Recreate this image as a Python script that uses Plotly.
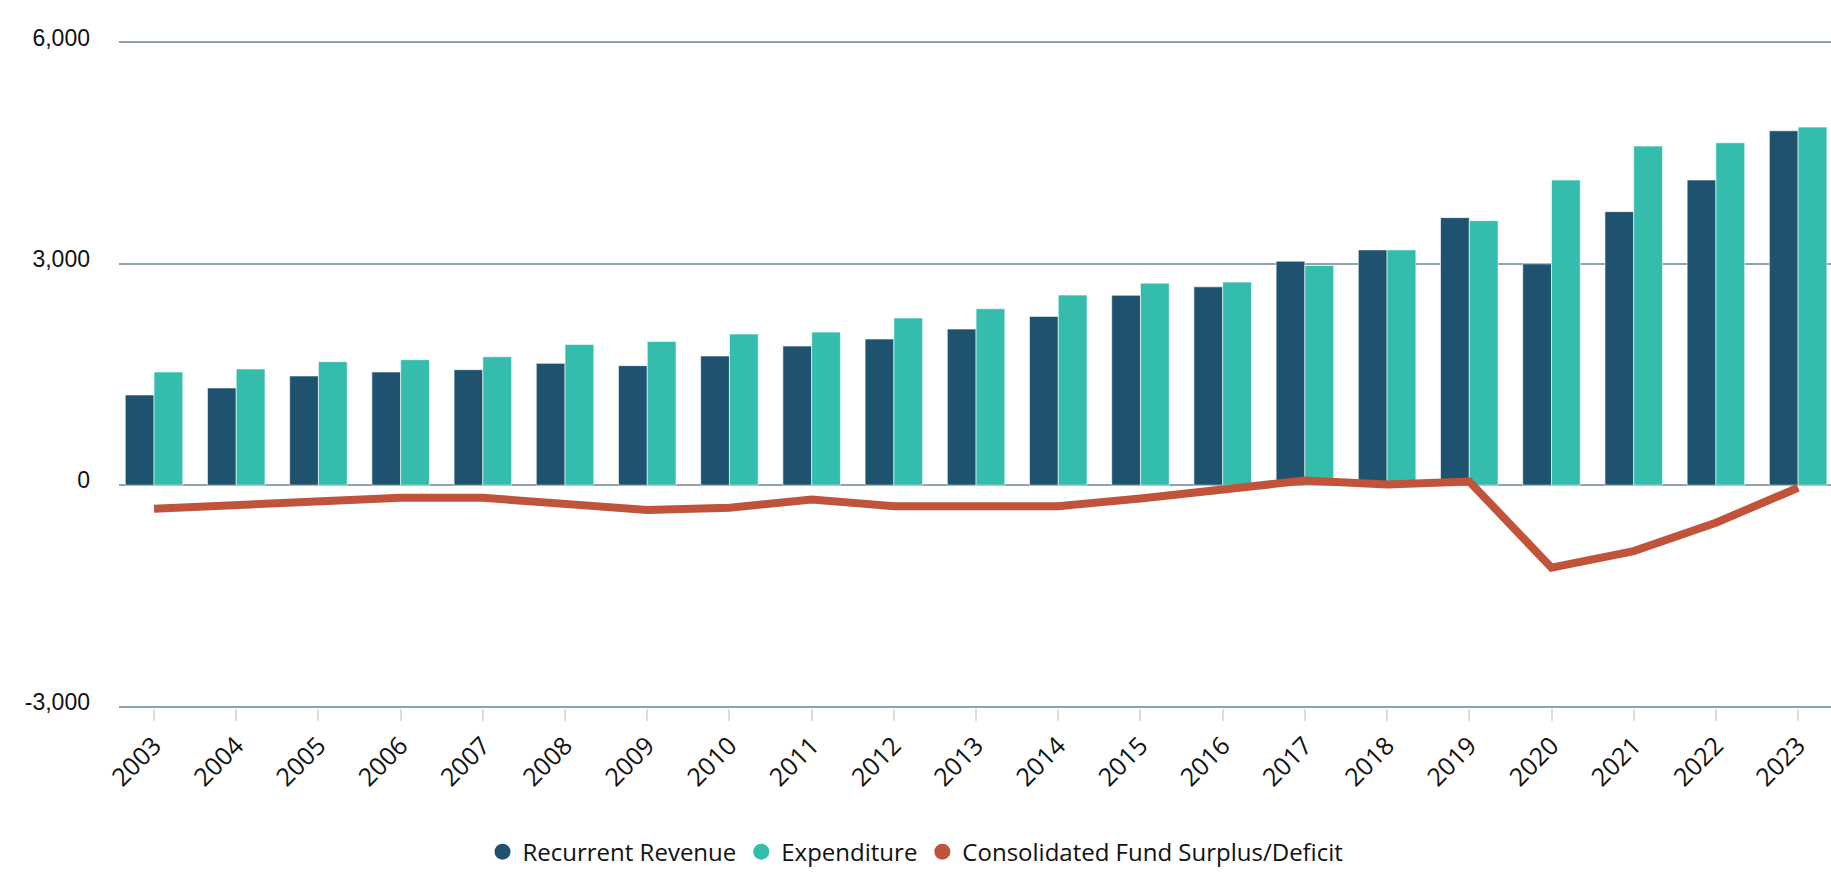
import plotly.graph_objects as go

years = [str(y) for y in range(2003, 2024)]
recurrent_revenue = [1223, 1318, 1480, 1534, 1565, 1651, 1620, 1751, 1886, 1981, 2116,
                     2287, 2574, 2688, 3036, 3189, 3626, 3000, 3707, 4136, 4803]
expenditure = [1534, 1575, 1674, 1701, 1741, 1908, 1948, 2048, 2075, 2265, 2391,
               2576, 2738, 2752, 2977, 3189, 3585, 4136, 4596, 4641, 4853]
surplus_deficit = [-320, -270, -207, -171, -171, -248, -335, -306, -193, -284, -275,
                   -284, -180, -45, 63, 10, 50, -1118, -893, -509, -35]

y_ticks = [-3000, 0, 3000, 6000]
y_tick_text = ["-3,000", "0", "3,000", "6,000"]

C_REV = "#1f526e"
C_EXP = "#34bcad"
C_SUR = "#c0533a"

fig = go.Figure()
fig.add_trace(go.Bar(x=years, y=recurrent_revenue, name="Recurrent Revenue",
                     marker=dict(color=C_REV, line=dict(color="rgba(255,255,255,0.6)", width=1)),
                     showlegend=False))
fig.add_trace(go.Bar(x=years, y=expenditure, name="Expenditure",
                     marker=dict(color=C_EXP, line=dict(color="rgba(255,255,255,0.6)", width=1)),
                     showlegend=False))
fig.add_trace(go.Scatter(x=years, y=surplus_deficit, name="Consolidated Fund Surplus/Deficit",
                         mode="lines", line=dict(color=C_SUR, width=8), showlegend=False))

# legend entries with circle symbols
for nm, col in [("Recurrent Revenue", C_REV), ("Expenditure", C_EXP),
                ("Consolidated Fund Surplus/Deficit", C_SUR)]:
    fig.add_trace(go.Scatter(x=[None], y=[None], mode="markers", name=nm,
                             marker=dict(color=col, size=18, symbol="circle"),
                             showlegend=True))

fig.update_layout(
    width=1831, height=873,
    margin=dict(l=119, r=0, t=41, b=165),
    plot_bgcolor="white", paper_bgcolor="white",
    barmode="group", bargap=0.3, bargroupgap=0,
    font=dict(family="Open Sans, Lato, sans-serif", color="#111"),
    legend=dict(orientation="h", xref="container", yref="container",
                x=0.5, xanchor="center", y=0.024, yanchor="middle",
                font=dict(size=24, family="Open Sans, sans-serif", color="#111"),
                itemsizing="trace", itemwidth=30, traceorder="normal"),
)
fig.update_xaxes(
    type="category", range=[-0.426, 20.40],
    showgrid=False, showline=False, zeroline=False,
    ticks="outside", ticklen=12, tickwidth=2, tickcolor="#dddddd",
    tickangle=-45, tickfont=dict(size=25, family="Open Sans, sans-serif", color="#111"),
)
fig.update_yaxes(
    range=[-3020, 6020], tickvals=y_ticks, ticktext=y_tick_text,
    showgrid=True, gridcolor="#8fa3ae", gridwidth=2,
    zeroline=True, zerolinecolor="#8fa3ae", zerolinewidth=2,
    showline=False, ticks="",
    tickfont=dict(size=23, family="Liberation Sans, Arial, sans-serif", color="#111"),
    ticklabelstandoff=28, ticklabelshift=-5,
)

fig.write_html("out.html", config={"displayModeBar": False},
               post_script="document.body.style.margin='0';")
